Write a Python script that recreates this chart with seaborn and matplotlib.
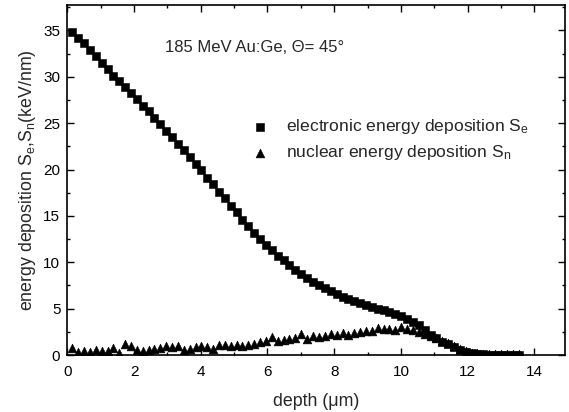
import matplotlib
matplotlib.use("Agg")
import matplotlib.pyplot as plt
import seaborn as sns
import pandas as pd
from matplotlib.ticker import MultipleLocator

depth = [0.15, 0.33, 0.50, 0.68, 0.85, 1.03, 1.21, 1.38, 1.56, 1.73, 1.91, 2.09, 2.26, 2.44,
         2.61, 2.79, 2.97, 3.14, 3.32, 3.49, 3.67, 3.85, 4.02, 4.20, 4.37, 4.55, 4.73, 4.90,
         5.08, 5.25, 5.43, 5.61, 5.78, 5.96, 6.13, 6.31, 6.49, 6.66, 6.84, 7.01, 7.19, 7.37,
         7.54, 7.72, 7.89, 8.07, 8.25, 8.42, 8.60, 8.77, 8.95, 9.13, 9.30, 9.48, 9.65, 9.83,
         10.01, 10.18, 10.36, 10.53, 10.71, 10.89, 11.06, 11.24, 11.41, 11.59, 11.77, 11.94,
         12.12, 12.29, 12.47, 12.65, 12.82, 13.00, 13.17, 13.35, 13.53]

s_electronic = [34.8, 34.2, 33.6, 32.9, 32.2, 31.5, 30.8, 30.1, 29.5, 28.9, 28.3, 27.6, 26.9, 26.3,
                25.6, 24.9, 24.2, 23.5, 22.8, 22.1, 21.3, 20.6, 19.9, 19.1, 18.4, 17.6, 16.9, 16.1,
                15.4, 14.6, 13.9, 13.2, 12.5, 11.9, 11.3, 10.7, 10.2, 9.7, 9.2, 8.7, 8.3, 7.9,
                7.5, 7.2, 6.9, 6.6, 6.3, 6.0, 5.8, 5.6, 5.4, 5.2, 5.0, 4.85, 4.6, 4.4,
                4.2, 3.9, 3.6, 3.2, 2.7, 2.2, 1.8, 1.45, 1.15, 0.85, 0.55, 0.3,
                0.2, 0.12, 0.08, 0.05, 0.03, 0.02, 0.01, 0.01, 0.0]

s_nuclear = [0.75, 0.35, 0.45, 0.35, 0.55, 0.45, 0.40, 0.80, 0.25, 1.15, 0.95, 0.50, 0.40, 0.55,
             0.70, 0.75, 0.95, 0.90, 1.00, 0.55, 0.70, 0.85, 0.95, 0.90, 0.70, 1.05, 1.10, 1.00,
             1.10, 1.00, 1.05, 1.15, 1.40, 1.50, 1.95, 1.55, 1.60, 1.70, 1.80, 2.25, 1.70, 2.00,
             1.90, 2.10, 2.25, 2.20, 2.35, 2.20, 2.40, 2.50, 2.55, 2.60, 2.95, 2.80, 2.85, 2.75,
             3.05, 2.80, 2.70, 2.45, 2.30, 2.05, 1.80, 1.55, 1.25, 0.95, 0.65, 0.40,
             0.25, 0.18, 0.15, 0.12, 0.10, 0.10, 0.10, 0.08, 0.08]

label_e = r"electronic energy deposition S$_{\rm e}$"
label_n = r"nuclear energy deposition S$_{\rm n}$"
annotation = "185 MeV Au:Ge, \u0398= 45\u00b0"

sns.set_theme(style="ticks")
plt.rcParams["font.family"] = ["Liberation Sans", "DejaVu Sans"]
plt.rcParams["mathtext.fontset"] = "custom"
plt.rcParams["mathtext.rm"] = "Liberation Sans"
plt.rcParams["mathtext.it"] = "Liberation Sans:italic"

df = pd.DataFrame({"depth": depth, "Se": s_electronic, "Sn": s_nuclear})

fig = plt.figure(figsize=(5.69, 4.12), dpi=100)
ax = fig.add_axes([0.1183, 0.1383, 0.993 - 0.1183, 0.987 - 0.1383])

sns.scatterplot(data=df, x="depth", y="Se", marker="s", s=34, color="black",
                edgecolor="black", linewidth=0.4, ax=ax, label=label_e, zorder=3)
sns.scatterplot(data=df, x="depth", y="Sn", marker="^", s=40, color="black",
                edgecolor="black", linewidth=0.4, ax=ax, label=label_n, zorder=3)

ax.set_xlim(0, 14.92)
ax.set_ylim(0, 37.7)
ax.xaxis.set_major_locator(MultipleLocator(2))
ax.xaxis.set_minor_locator(MultipleLocator(1))
ax.yaxis.set_major_locator(MultipleLocator(5))
ax.yaxis.set_minor_locator(MultipleLocator(2.5))
ax.tick_params(which="both", direction="in", top=True, right=True, labelsize=11,
               colors="black", width=1.0)
ax.tick_params(axis="x", which="both", pad=7)
ax.tick_params(axis="y", which="both", pad=5)
ax.tick_params(which="major", length=5)
ax.tick_params(which="minor", length=2.5)
for sp in ax.spines.values():
    sp.set_linewidth(1.2)
    sp.set_color("black")

ax.set_xlabel("depth (\u03bcm)", fontsize=12.8, labelpad=10)
ax.set_ylabel(r"energy deposition S$_{\rm e}$,S$_{\rm n}$(keV/nm)", fontsize=12.8, labelpad=4)

ax.text(2.93, 33.2, annotation, fontsize=12, va="center", ha="left")

leg = ax.legend(loc="center left", bbox_to_anchor=(0.37, 0.615), frameon=False,
                fontsize=12.6, labelspacing=0.4, handletextpad=0.95, borderaxespad=0,
                borderpad=0, handlelength=1.0)

fig.savefig("out.png", dpi=100)
